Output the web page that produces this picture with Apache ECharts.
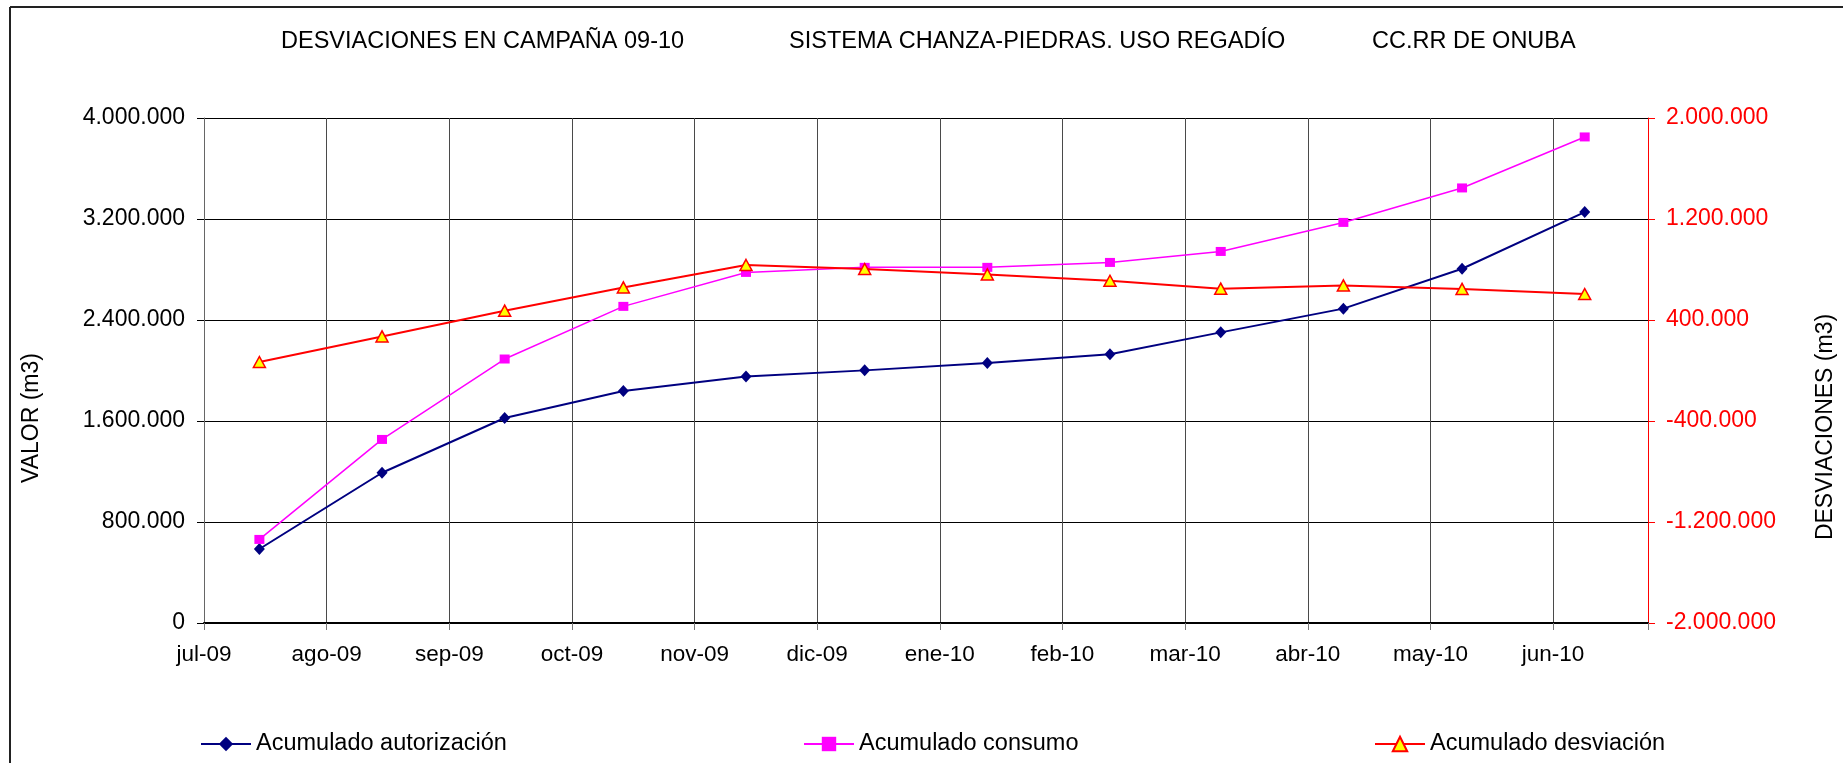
<!DOCTYPE html>
<html>
<head>
<meta charset="utf-8">
<title>Desviaciones en campaña 09-10</title>
<script src="https://cdn.jsdelivr.net/npm/echarts@6/dist/echarts.min.js"></script>
<style>
  html, body { margin: 0; padding: 0; background: #ffffff; }
  #chart { width: 1843px; height: 763px; }
</style>
</head>
<body>
<div id="chart"></div>
<script>
// Month tick labels (one tick every 31 days starting 1 July 2009)
const monthLabels = ['jul-09', 'ago-09', 'sep-09', 'oct-09', 'nov-09', 'dic-09',
                     'ene-10', 'feb-10', 'mar-10', 'abr-10', 'may-10', 'jun-10'];

// Reading dates of each monthly value
const fechas = ['2009-07-15', '2009-08-15', '2009-09-15', '2009-10-15', '2009-11-15', '2009-12-15',
                '2010-01-15', '2010-02-15', '2010-03-15', '2010-04-15', '2010-05-15', '2010-06-15'];

// Accumulated volumes (m3)
const acumAutorizacion = [586000, 1190000, 1624000, 1838000, 1953000, 2001000,
                          2059000, 2128000, 2302000, 2490000, 2806000, 3255000];
const acumConsumo = [662000, 1454000, 2091000, 2508000, 2777000, 2817000,
                     2817000, 2856000, 2943000, 3173000, 3446000, 3850000];
const acumDesviacion = [67000, 270000, 474000, 658000, 836000, 804000,
                        761000, 711000, 648000, 674000, 646000, 606000];

const FONT = '"Liberation Sans", Arial, sans-serif';
const ORIGEN = Date.parse('2009-07-01');
const DIA = 86400000;
const PASO = 31;

function dias(fecha) {
  return (Date.parse(fecha) - ORIGEN) / DIA;
}

function miles(v) {
  const s = Math.abs(Math.round(v)).toString().replace(/\B(?=(\d{3})+(?!\d))/g, '.');
  return (v < 0 ? '-' : '') + s;
}

function serie(valores) {
  return fechas.map((f, i) => [dias(f), valores[i]]);
}

const tituloEstilo = { fontFamily: FONT, fontSize: 23.5, fontWeight: 'normal', color: '#000' };
const leyendaBase = { top: 732, padding: 0, itemWidth: 50, itemHeight: 18,
                      textStyle: { fontFamily: FONT, fontSize: 23.5, color: '#000' } };

const chart = echarts.init(document.getElementById('chart'));

chart.setOption({
  animation: false,
  backgroundColor: '#ffffff',
  textStyle: { fontFamily: FONT },
  title: [
    { text: 'DESVIACIONES EN CAMPAÑA 09-10', left: 281, top: 30, padding: 0, textStyle: tituloEstilo },
    { text: 'SISTEMA CHANZA-PIEDRAS. USO REGADÍO', left: 789, top: 30, padding: 0, textStyle: tituloEstilo },
    { text: 'CC.RR DE ONUBA', left: 1372, top: 30, padding: 0, textStyle: tituloEstilo }
  ],
  legend: [
    Object.assign({ data: ['Acumulado autorización'], left: 200 }, leyendaBase),
    Object.assign({ data: ['Acumulado consumo'], left: 803 }, leyendaBase),
    Object.assign({ data: ['Acumulado desviación'], left: 1374 }, leyendaBase)
  ],
  grid: { left: 204, top: 118, width: 1444, height: 505, containLabel: false },
  xAxis: {
    type: 'value',
    min: 0,
    max: 365,
    interval: PASO,
    axisLine: { show: true, onZero: false, lineStyle: { color: '#000', width: 2 } },
    axisTick: { show: true, length: 7, lineStyle: { color: '#777', width: 1 } },
    axisLabel: {
      margin: 20,
      fontFamily: FONT, fontSize: 22.5, color: '#000',
      formatter: function (v) {
        const k = Math.round(v / PASO);
        return (Math.abs(v - k * PASO) < 1e-6 && k < monthLabels.length) ? monthLabels[k] : '';
      }
    },
    splitLine: { show: true, lineStyle: { color: '#4a4a4a', width: 1 } }
  },
  yAxis: [
    {
      type: 'value',
      min: 0,
      max: 4000000,
      interval: 800000,
      axisLine: { show: true, lineStyle: { color: '#666', width: 1 } },
      axisTick: { show: true, length: 7, lineStyle: { color: '#000' } },
      axisLabel: { margin: 19, fontFamily: FONT, fontSize: 23, color: '#000', formatter: miles },
      splitLine: { show: true, lineStyle: { color: '#000', width: 1 } }
    },
    {
      type: 'value',
      position: 'right',
      min: -2000000,
      max: 2000000,
      interval: 800000,
      axisLine: { show: true, lineStyle: { color: '#FF0000', width: 1 } },
      axisTick: { show: true, length: 7, lineStyle: { color: '#FF0000' } },
      axisLabel: { margin: 18, fontFamily: FONT, fontSize: 23, color: '#FF0000', formatter: miles },
      splitLine: { show: false }
    }
  ],
  graphic: [
    { type: 'line', silent: true, z: 100,
      shape: { x1: 10, y1: 7, x2: 1843, y2: 7 },
      style: { stroke: '#222', lineWidth: 2 } },
    { type: 'line', silent: true, z: 100,
      shape: { x1: 10, y1: 7, x2: 10, y2: 763 },
      style: { stroke: '#222', lineWidth: 2 } },
    { type: 'text', silent: true, x: 32, y: 418, rotation: Math.PI / 2,
      style: { text: 'VALOR (m3)', font: '23px ' + FONT, fill: '#000',
               textAlign: 'center', textVerticalAlign: 'middle' } },
    { type: 'text', silent: true, x: 1826, y: 427, rotation: Math.PI / 2,
      style: { text: 'DESVIACIONES (m3)', font: '23px ' + FONT, fill: '#000',
               textAlign: 'center', textVerticalAlign: 'middle' } }
  ],
  series: [
    {
      name: 'Acumulado autorización',
      type: 'line',
      yAxisIndex: 0,
      data: serie(acumAutorizacion),
      symbol: 'diamond',
      symbolSize: [11, 12],
      showSymbol: true,
      lineStyle: { color: '#000080', width: 2 },
      itemStyle: { color: '#000080' },
      z: 3
    },
    {
      name: 'Acumulado consumo',
      type: 'line',
      yAxisIndex: 0,
      data: serie(acumConsumo),
      symbol: 'rect',
      symbolSize: [10, 9],
      showSymbol: true,
      lineStyle: { color: '#FF00FF', width: 1.5 },
      itemStyle: { color: '#FF00FF' },
      z: 4
    },
    {
      name: 'Acumulado desviación',
      type: 'line',
      yAxisIndex: 1,
      data: serie(acumDesviacion),
      symbol: 'triangle',
      symbolSize: [12, 11],
      showSymbol: true,
      lineStyle: { color: '#FF0000', width: 2 },
      itemStyle: { color: '#FFFF00', borderColor: '#FF0000', borderWidth: 1.5 },
      z: 5
    }
  ]
});
</script>
</body>
</html>
